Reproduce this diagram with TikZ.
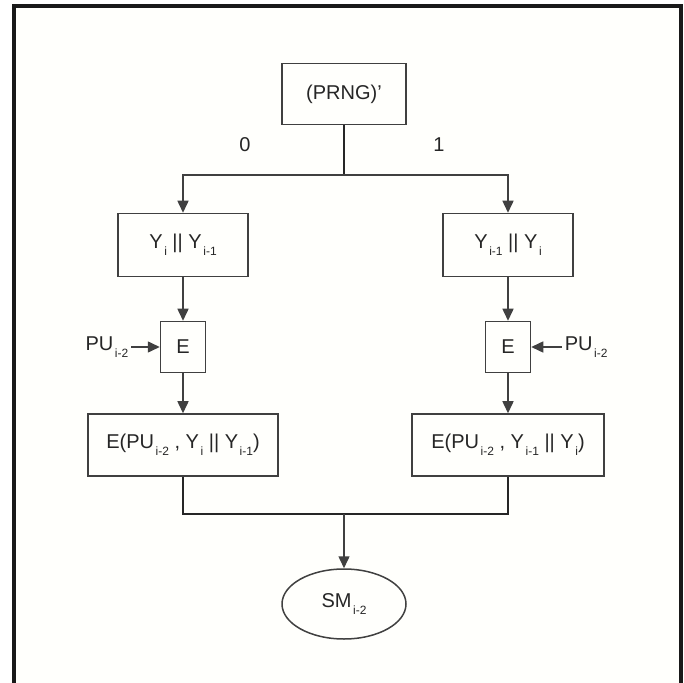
\documentclass[tikz,border=0pt]{standalone}
\usepackage{fontspec}
\setmainfont{Liberation Sans}
\usepackage{tikz}
\usetikzlibrary{arrows.meta,positioning,shapes.geometric}
\newcommand{\sbx}[1]{\kern0.8pt\raisebox{-0.65ex}{\fontsize{6}{7}\selectfont #1}}

\begin{document}
\begin{tikzpicture}[x=0.5pt,y=-0.5pt,font=\fontsize{10}{12}\selectfont,line width=0.75pt,draw=black!85,text=black!85,box/.style={draw=black!75,align=center,inner sep=2pt},arr/.style={-{Triangle[length=6pt,width=5.5pt]},draw=black!75}]
\useasboundingbox (0,0) rectangle (684,683);
\fill[white!99!yellow] (14,6) rectangle (681,683);
\draw[line width=1.6pt,black!90] (14,683) -- (14,6) -- (681,6) -- (681,683);
\node[box,minimum width=62pt,minimum height=30.5pt] (prng) at (344,94) {(PRNG)'};
\node[box,minimum width=65pt,minimum height=31.5pt] (yl) at (183,245) {Y\sbx{i} || Y\sbx{i-1}};
\node[box,minimum width=65pt,minimum height=31.5pt] (yr) at (508,245) {Y\sbx{i-1} || Y\sbx{i}};
\node[box,minimum width=22.5pt,minimum height=25.5pt] (el) at (183,347) {E};
\node[box,minimum width=22.5pt,minimum height=25.5pt] (er) at (508,347) {E};
\node[box,minimum width=95pt,minimum height=31pt] (cl) at (183,445) {E(PU\sbx{i-2} , Y\sbx{i} || Y\sbx{i-1})};
\node[box,minimum width=96pt,minimum height=31pt] (cr) at (508,445) {E(PU\sbx{i-2} , Y\sbx{i-1} || Y\sbx{i})};
\node[draw=black!75,ellipse,minimum width=62pt,minimum height=35pt,inner sep=1pt] (sm) at (344,604) {SM\sbx{i-2}};
\node[anchor=east,inner sep=1pt] (pul) at (131,347) {PU\sbx{i-2}};
\node[anchor=west,inner sep=1pt] (pur) at (562,347) {PU\sbx{i-2}};
\node (zero) at (245,145) {0};
\node (one) at (439,145) {1};
\coordinate (split) at (344,175);
\coordinate (join) at (344,514);
\draw (prng) -- (split); \draw[arr] (split) -| (yl); \draw[arr] (split) -| (yr);
\draw[arr] (yl) -- (el); \draw[arr] (yr) -- (er);
\draw[arr] (pul.east) -- (el.west); \draw[arr] (pur.west) -- (er.east);
\draw[arr] (el) -- (cl); \draw[arr] (er) -- (cr);
\draw (cl.south) |- (join) -| (cr.south);
\draw[arr] (join) -- (sm);
\end{tikzpicture}
\end{document}
